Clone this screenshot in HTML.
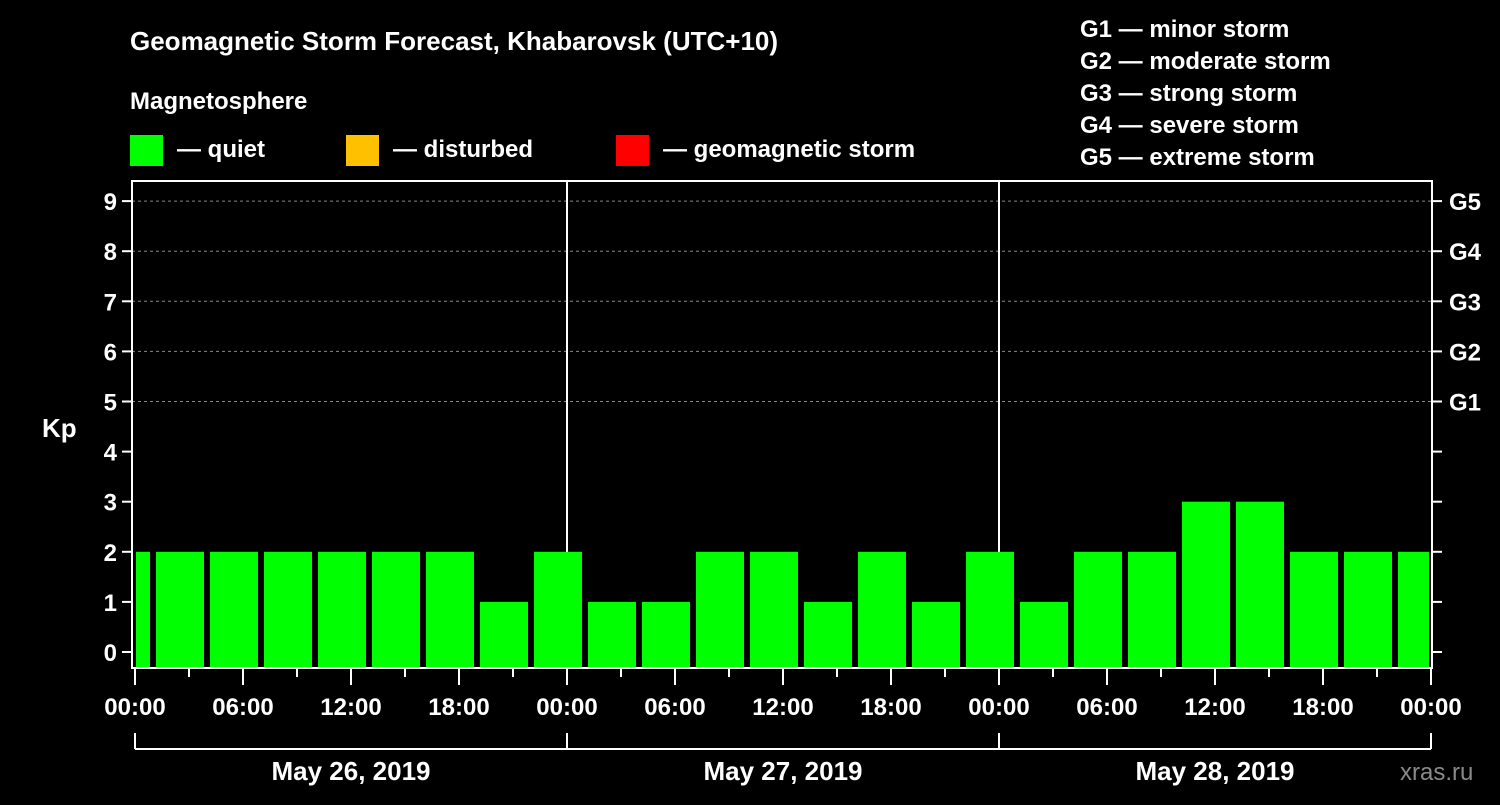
<!DOCTYPE html>
<html><head><meta charset="utf-8"><style>
body{margin:0;background:#000;width:1500px;height:800px;overflow:hidden}
svg text{font-family:"Liberation Sans",Arial,sans-serif;font-weight:bold;fill:#fff}
</style></head><body>
<svg id="c" width="1500" height="800" xmlns="http://www.w3.org/2000/svg">
<text x="130" y="50" font-size="26">Geomagnetic Storm Forecast, Khabarovsk (UTC+10)</text>
<text x="130" y="109" font-size="24">Magnetosphere</text>
<g><rect x="130" y="135" width="33" height="31" fill="#00ff00"/><text x="177" y="157" font-size="24">— quiet</text></g>
<g><rect x="346" y="135" width="33" height="31" fill="#ffc000"/><text x="393" y="157" font-size="24">— disturbed</text></g>
<g><rect x="616" y="135" width="33" height="31" fill="#ff0000"/><text x="663" y="157" font-size="24">— geomagnetic storm</text></g>
<g font-size="24">
<text x="1080" y="37">G1 — minor storm</text><text x="1080" y="69">G2 — moderate storm</text><text x="1080" y="101">G3 — strong storm</text><text x="1080" y="133">G4 — severe storm</text><text x="1080" y="165">G5 — extreme storm</text></g>
<text x="42" y="437" font-size="26">Kp</text>
<text x="1400" y="780" font-size="24" fill="#888" style="fill:#8a8a8a;font-weight:normal">xras.ru</text>
<g id="grid"></g><g id="bars"></g><g id="axes"></g>
</svg>
<script>
const kpValues=[2,2,2,2,2,2,2,1,2,1,1,2,2,1,2,1,2,1,2,2,3,3,2,2,2];
const periodStartHours=[-2,1,4,7,10,13,16,19,22,25,28,31,34,37,40,43,46,49,52,55,58,61,64,67,70];
const yTicks=[0,1,2,3,4,5,6,7,8,9];
const gLabels=["G1","G2","G3","G4","G5"];
const gLevels=[5,6,7,8,9];
const xTickLabels=["00:00","06:00","12:00","18:00","00:00","06:00","12:00","18:00","00:00","06:00","12:00","18:00","00:00"];
const dateLabels=["May 26, 2019","May 27, 2019","May 28, 2019"];
const X0=135,PXH=18,HMAX=72;
const x=h=>X0+h*PXH;
const y=k=>652-k*50.1;
const NS="http://www.w3.org/2000/svg";
function mk(t,a,p){const e=document.createElementNS(NS,t);for(const k in a)e.setAttribute(k,a[k]);p.appendChild(e);return e;}
const grid=document.getElementById('grid'),bars=document.getElementById('bars'),axes=document.getElementById('axes');
gLevels.forEach(k=>{const l=mk('line',{x1:132,x2:1432,y1:y(k),y2:y(k),stroke:'#888','stroke-dasharray':'3,3','stroke-width':1},grid);

});
[24,48].forEach(h=>{const l=mk('line',{x1:x(h),x2:x(h),y1:181,y2:668,stroke:'#fff','stroke-width':2},grid);

});
kpValues.forEach((v,i)=>{let a=x(periodStartHours[i])+3,b=x(periodStartHours[i]+3)-3;a=Math.max(a,X0+1);b=Math.min(b,x(HMAX)-2);
const col=v>=5?'#ff0000':(v>=4?'#ffc000':'#00ff00');
const r=mk('rect',{x:a,y:y(v),width:b-a,height:668-y(v),fill:col},bars);

});
const f=mk('rect',{x:132,y:181,width:1300,height:487,fill:'none',stroke:'#fff','stroke-width':2},axes);


yTicks.forEach(k=>{mk('line',{x1:122,x2:131,y1:y(k),y2:y(k),stroke:'#fff','stroke-width':2},axes);
mk('line',{x1:1433,x2:1442,y1:y(k),y2:y(k),stroke:'#fff','stroke-width':2},axes);
const t=mk('text',{x:117,y:y(k)+9,'font-size':24,'text-anchor':'end'},axes);t.textContent=k;

});
gLabels.forEach((g,i)=>{const t=mk('text',{x:1449,y:y(gLevels[i])+9,'font-size':24},axes);t.textContent=g;

});
for(let h=0;h<=HMAX;h+=3){const maj=h%6===0;mk('line',{x1:x(h),x2:x(h),y1:669,y2:maj?685:677,stroke:'#fff','stroke-width':2},axes);}
xTickLabels.forEach((s,i)=>{const t=mk('text',{x:x(i*6),y:715,'font-size':24,'text-anchor':'middle'},axes);t.textContent=s;

});
mk('line',{x1:x(0),x2:x(HMAX),y1:749,y2:749,stroke:'#fff','stroke-width':2},axes);
[0,24,48,72].forEach(h=>mk('line',{x1:x(h),x2:x(h),y1:733,y2:749,stroke:'#fff','stroke-width':2},axes));
dateLabels.forEach((s,i)=>{const t=mk('text',{x:x(i*24+12),y:780,'font-size':26,'text-anchor':'middle'},axes);t.textContent=s;

});
</script>
</body></html>
